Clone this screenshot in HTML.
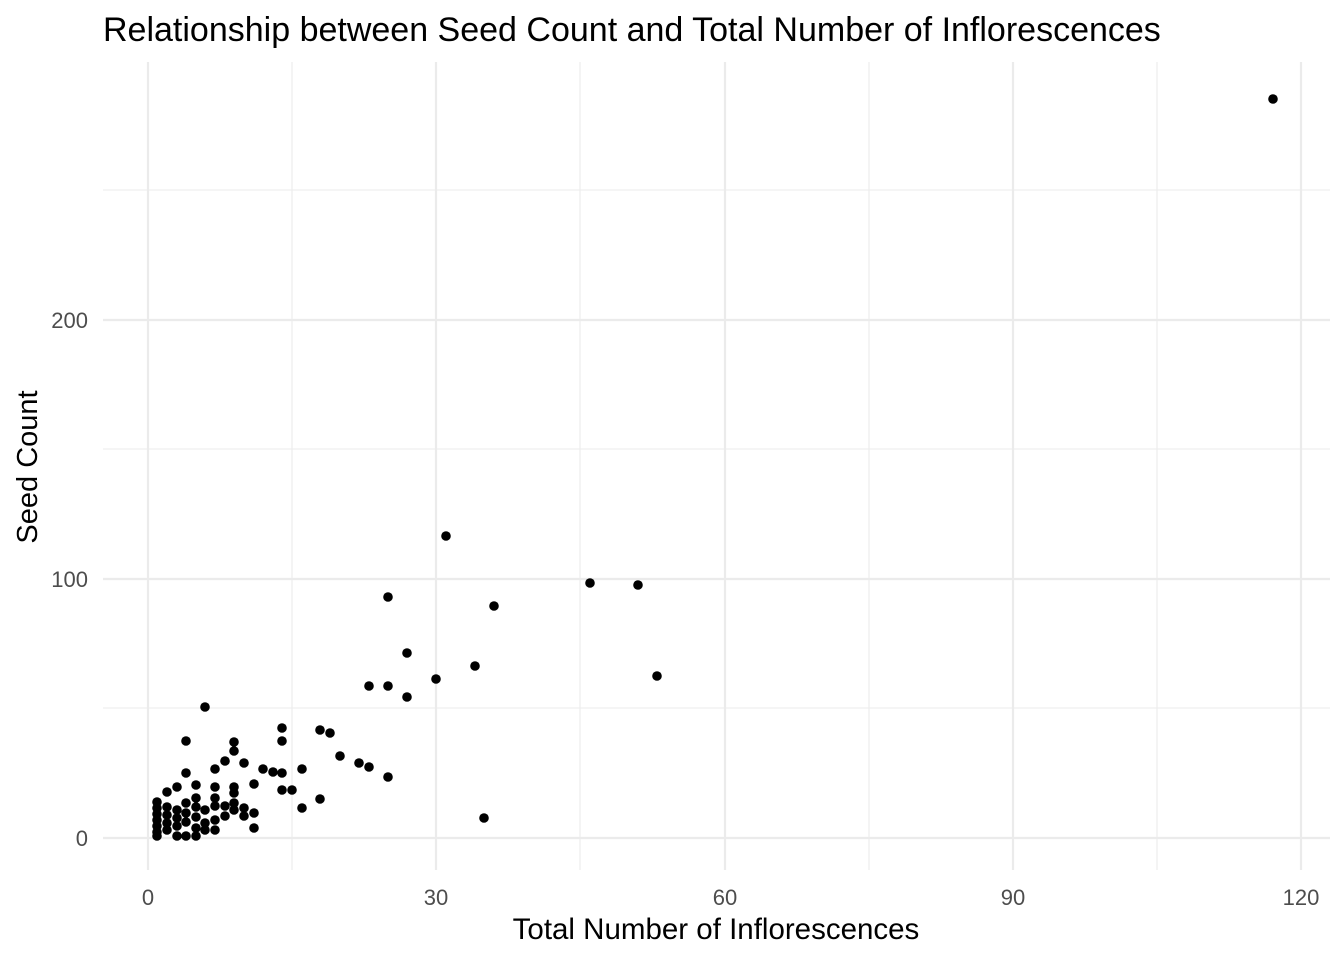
<!DOCTYPE html>
<html><head><style>body{margin:0;background:#fff}</style></head><body>
<svg width="1344" height="960" xmlns="http://www.w3.org/2000/svg" style="font-family:'Liberation Sans',Arial,sans-serif">
<rect width="1344" height="960" fill="#fff"/>
<g stroke="#ebebeb" stroke-width="1.1">
<line x1="103" x2="1330" y1="708" y2="708"/><line x1="103" x2="1330" y1="449" y2="449"/><line x1="103" x2="1330" y1="190" y2="190"/>
<line x1="292" x2="292" y1="62" y2="870"/><line x1="580" x2="580" y1="62" y2="870"/><line x1="869" x2="869" y1="62" y2="870"/><line x1="1157" x2="1157" y1="62" y2="870"/>
</g>
<g stroke="#ebebeb" stroke-width="2.2">
<line x1="103" x2="1330" y1="838" y2="838"/><line x1="103" x2="1330" y1="579" y2="579"/><line x1="103" x2="1330" y1="320" y2="320"/>
<line x1="148" x2="148" y1="62" y2="870"/><line x1="436" x2="436" y1="62" y2="870"/><line x1="725" x2="725" y1="62" y2="870"/><line x1="1013" x2="1013" y1="62" y2="870"/><line x1="1301" x2="1301" y1="62" y2="870"/>
</g>
<g fill="#000">
<circle cx="1273" cy="99" r="4.8"/><circle cx="446" cy="536" r="4.8"/><circle cx="388" cy="597" r="4.8"/><circle cx="494" cy="606" r="4.8"/><circle cx="590" cy="583" r="4.8"/><circle cx="638" cy="585" r="4.8"/><circle cx="657" cy="676" r="4.8"/><circle cx="407" cy="653" r="4.8"/><circle cx="475" cy="666" r="4.8"/><circle cx="436" cy="679" r="4.8"/><circle cx="407" cy="697" r="4.8"/><circle cx="369" cy="686" r="4.8"/><circle cx="388" cy="686" r="4.8"/><circle cx="388" cy="777" r="4.8"/><circle cx="484" cy="818" r="4.8"/>
<circle cx="205" cy="707" r="4.8"/><circle cx="186" cy="741" r="4.8"/><circle cx="234" cy="742" r="4.8"/><circle cx="282" cy="728" r="4.8"/><circle cx="282" cy="741" r="4.8"/><circle cx="234" cy="751" r="4.8"/><circle cx="225" cy="761" r="4.8"/><circle cx="215" cy="769" r="4.8"/><circle cx="244" cy="763" r="4.8"/><circle cx="186" cy="773" r="4.8"/><circle cx="263" cy="769" r="4.8"/><circle cx="273" cy="772" r="4.8"/><circle cx="282" cy="773" r="4.8"/><circle cx="302" cy="769" r="4.8"/><circle cx="320" cy="730" r="4.8"/><circle cx="330" cy="733" r="4.8"/><circle cx="340" cy="756" r="4.8"/><circle cx="359" cy="763" r="4.8"/><circle cx="369" cy="767" r="4.8"/>
<circle cx="167" cy="792" r="4.8"/><circle cx="177" cy="787" r="4.8"/><circle cx="196" cy="785" r="4.8"/><circle cx="215" cy="787" r="4.8"/><circle cx="234" cy="787" r="4.8"/><circle cx="234" cy="793" r="4.8"/><circle cx="254" cy="784" r="4.8"/><circle cx="282" cy="790" r="4.8"/><circle cx="292" cy="790" r="4.8"/><circle cx="302" cy="808" r="4.8"/><circle cx="320" cy="799" r="4.8"/><circle cx="254" cy="813" r="4.8"/><circle cx="254" cy="828" r="4.8"/><circle cx="244" cy="816" r="4.8"/>
<circle cx="157" cy="802" r="4.8"/><circle cx="157" cy="808" r="4.8"/><circle cx="157" cy="814" r="4.8"/><circle cx="157" cy="820" r="4.8"/><circle cx="157" cy="826" r="4.8"/><circle cx="157" cy="832" r="4.8"/><circle cx="157" cy="836" r="4.8"/>
<circle cx="167" cy="807" r="4.8"/><circle cx="167" cy="815" r="4.8"/><circle cx="167" cy="823" r="4.8"/><circle cx="167" cy="830" r="4.8"/>
<circle cx="177" cy="810" r="4.8"/><circle cx="177" cy="818" r="4.8"/><circle cx="177" cy="826" r="4.8"/><circle cx="177" cy="836" r="4.8"/>
<circle cx="186" cy="803" r="4.8"/><circle cx="186" cy="813" r="4.8"/><circle cx="186" cy="822" r="4.8"/><circle cx="186" cy="836" r="4.8"/>
<circle cx="196" cy="798" r="4.8"/><circle cx="196" cy="807" r="4.8"/><circle cx="196" cy="817" r="4.8"/><circle cx="196" cy="828" r="4.8"/><circle cx="196" cy="836" r="4.8"/>
<circle cx="205" cy="810" r="4.8"/><circle cx="205" cy="823" r="4.8"/><circle cx="205" cy="830" r="4.8"/>
<circle cx="215" cy="798" r="4.8"/><circle cx="215" cy="806" r="4.8"/><circle cx="215" cy="820" r="4.8"/><circle cx="215" cy="830" r="4.8"/>
<circle cx="225" cy="806" r="4.8"/><circle cx="225" cy="816" r="4.8"/><circle cx="234" cy="803" r="4.8"/><circle cx="234" cy="810" r="4.8"/><circle cx="244" cy="808" r="4.8"/>
</g>
<g fill="#4d4d4d" font-size="22">
<text x="88" y="846" text-anchor="end">0</text><text x="88" y="587" text-anchor="end">100</text><text x="88" y="328" text-anchor="end">200</text>
<text x="148" y="905" text-anchor="middle">0</text><text x="436" y="905" text-anchor="middle">30</text><text x="725" y="905" text-anchor="middle">60</text><text x="1013" y="905" text-anchor="middle">90</text><text x="1301" y="905" text-anchor="middle">120</text>
</g>
<text x="716" y="939" text-anchor="middle" font-size="29.5">Total Number of Inflorescences</text>
<text transform="translate(37,467) rotate(-90)" text-anchor="middle" font-size="29">Seed Count</text>
<text x="103" y="41" font-size="34">Relationship between Seed Count and Total Number of Inflorescences</text>
</svg>
</body></html>
